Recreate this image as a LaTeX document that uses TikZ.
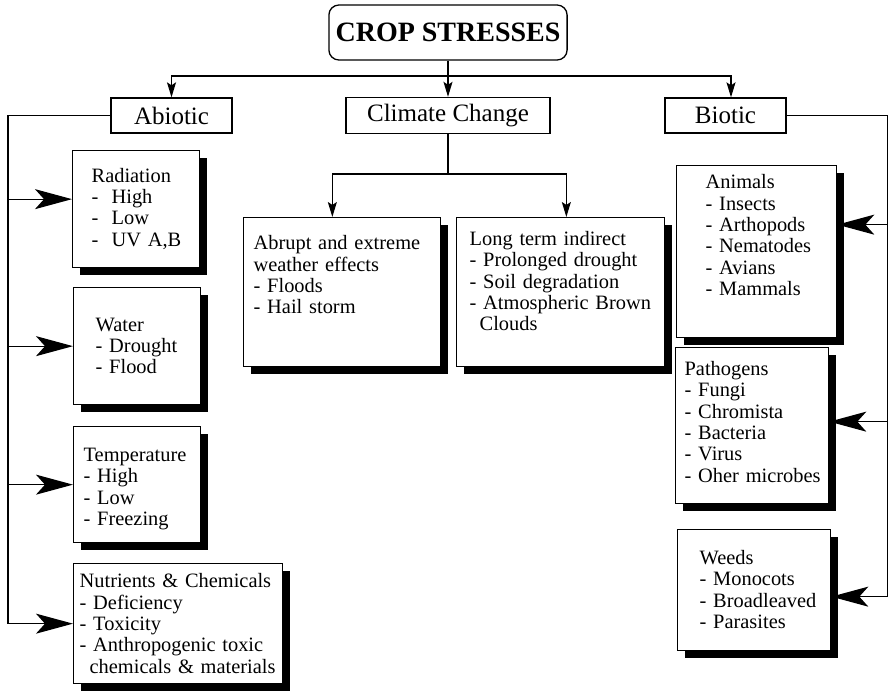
\documentclass[tikz,border=0pt]{standalone}
\usepackage{fontspec}
\setmainfont{Liberation Serif}
\usetikzlibrary{arrows.meta,shadows}

\def\bodyfont{\fontsize{10.2}{10.65}\selectfont}
\def\headfont{\fontsize{12.5}{15}\selectfont}

\begin{document}
\begin{tikzpicture}[x=0.5pt,y=-0.5pt,line width=0.65pt,
	tip/.style={-{Stealth[length=7.5pt,width=4.5pt,inset=1.5pt]}},
	bigtip/.style={-{Stealth[length=18.5pt,width=10pt,inset=4.5pt]}},
	headbox/.style={draw,minimum height=17.5pt,font=\headfont},
	stressbox/.style={draw,fill=white,anchor=north west,align=left,inner sep=0pt,font=\bodyfont,
		drop shadow={shadow xshift=3.5pt,shadow yshift=-3.5pt,fill=black,opacity=1}}]
	
	\useasboundingbox (0,0) rectangle (889,691);
	
	\node[draw,rounded corners=5pt,minimum width=119pt,minimum height=27.5pt,font=\bfseries\fontsize{14}{16}\selectfont] (crop) at (448,32.5) {CROP STRESSES};
	\node[headbox,minimum width=60.5pt] (abiotic) at (171.5,115.5) {Abiotic};
	\node[headbox,minimum width=102pt] (cc) at (448,115.5) {Climate Change};
	\node[headbox,minimum width=60.5pt] (biotic) at (725.5,115.5) {Biotic};
	
	\node[stressbox,text width=63.5pt,text height=15.85pt,text depth=42.65pt] (rad) at (72,150) {\leftskip=9.5pt Radiation\\ -\hspace{6.6pt}High\\ -\hspace{6.6pt}Low\\ -\hspace{6.6pt}UV A,B\par};
	\node[stressbox,text width=63.5pt,text height=21.85pt,text depth=36.65pt] (water) at (73,287) {\leftskip=11pt Water\\ - Drought\\ - Flood\par};
	\node[stressbox,text width=63.5pt,text height=17.5pt,text depth=40.5pt] (temp) at (73,426) {\leftskip=5pt Temperature\\ - High\\ - Low\\ - Freezing\par};
	\node[stressbox,text width=104.5pt,text height=12.15pt,text depth=47.85pt] (nutri) at (73,563) {\leftskip=3pt Nutrients \& Chemicals\\ - Deficiency\\ - Toxicity\\ - Anthropogenic toxic\\ \hspace*{5pt}chemicals \& materials\par};
	
	\node[stressbox,text width=98.5pt,text height=16.15pt,text depth=58.35pt] (abrupt) at (243,217) {\leftskip=5pt Abrupt and extreme\\ weather effects\\ - Floods\\ - Hail storm\par};
	\node[stressbox,text width=104pt,text height=14pt,text depth=60.5pt] (long) at (456,217) {\leftskip=6.5pt Long term indirect\\ - Prolonged drought\\ - Soil degradation\\ - Atmospheric Brown\\ \hspace*{5pt}Clouds\par};
	
	\node[stressbox,text width=80pt,text height=11.65pt,text depth=74.35pt] (animals) at (676,165) {\leftskip=14.5pt Animals\\ - Insects\\ - Arthopods\\ - Nematodes\\ - Avians\\ - Mammals\par};
	\node[stressbox,text width=76.5pt,text height=14pt,text depth=64pt] (patho) at (675,347) {\leftskip=4.5pt Pathogens\\ - Fungi\\ - Chromista\\ - Bacteria\\ - Virus\\ - Oher microbes\par};
	\node[stressbox,text width=76.5pt,text height=17.5pt,text depth=43pt] (weeds) at (677,529) {\leftskip=11pt Weeds\\ - Monocots\\ - Broadleaved\\ - Parasites\par};
	
	\coordinate (hub) at (448,76);
	\coordinate (ccjoin) at (448,174);
	\coordinate (aspine) at (8,115.5);
	\coordinate (bspine) at (887.5,115.5);
	\coordinate (radin) at ([yshift=5pt]rad.west);
	\coordinate (animalsin) at ([yshift=13.5pt]animals.east);
	\coordinate (pathoin) at ([yshift=2pt]patho.east);
	\coordinate (weedsin) at ([yshift=-3.25pt]weeds.east);
	
	\draw[tip] (crop) -- (cc);
	\draw[tip] (hub) -| (abiotic.north);
	\draw[tip] (hub) -| ([xshift=2.75pt]biotic.north);
	
	\draw (cc.south) -- (ccjoin);
	\draw[tip] (ccjoin) -| ([xshift=-4.9pt]abrupt.north);
	\draw[tip] (ccjoin) -| ([xshift=2.85pt]long.north);
	
	\draw (abiotic.west) -- (aspine) -- (aspine |- nutri.west);
	\draw[bigtip] (aspine |- radin) -- (radin);
	\draw[bigtip] (aspine |- water.west) -- (water.west);
	\draw[bigtip] (aspine |- temp.west) -- (temp.west);
	\draw[bigtip] (aspine |- nutri.west) -- (nutri.west);
	
	\draw (biotic.east) -- (bspine) -- (bspine |- weedsin);
	\draw[bigtip] (bspine |- animalsin) -- (animalsin);
	\draw[bigtip] (bspine |- pathoin) -- (pathoin);
	\draw[bigtip] (bspine |- weedsin) -- (weedsin);
	
\end{tikzpicture}
\end{document}
